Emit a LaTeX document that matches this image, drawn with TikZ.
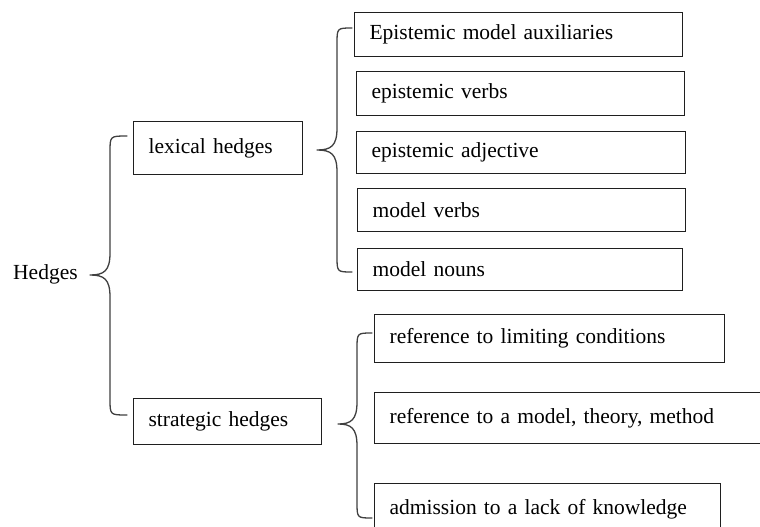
\documentclass[tikz,border=0pt]{standalone}
\usepackage{fontspec}
\setmainfont{Liberation Serif}
\newcommand{\drawbrace}[6]{%
  % #1 tip x, #2 tip y, #3 vertical x, #4 end x, #5 top y, #6 bottom y
  \draw[bracestyle] (#4,#5) .. controls (#3,#5) .. (#3,#5+16)
     -- (#3,#2-22) .. controls (#3,#2-4) and (#3-6,#2) .. (#1,#2)
     (#1,#2) .. controls (#3-6,#2) and (#3,#2+4) .. (#3,#2+22)
     -- (#3,#6-16) .. controls (#3,#6) .. (#4,#6);}
\tikzset{
  bx/.style={draw=black!88, line width=1.2pt, anchor=north west, inner xsep=15pt,
    inner ysep=0pt, align=left, font=\fontsize{21.5}{26}\selectfont},
  lbl/.style={anchor=base west, inner sep=0pt, font=\fontsize{21.5}{26}\selectfont},
  bracestyle/.style={draw=black!75, line width=1.3pt, line cap=round}
}
\begin{document}
\begin{tikzpicture}[x=1pt,y=-1pt]
\clip (0,0) rectangle (760,527);
\fill[white] (0,0) rectangle (760,527);
% root
\node[lbl] (hedges) at (13,279) {Hedges};
% second level
\node[bx, text width=139pt, minimum height=53pt] (lex) at (133,121) {lexical hedges};
\node[bx, text width=158pt, minimum height=46pt] (strat) at (133,398) {strategic hedges};
% lexical children
\node[bx, text width=298pt, minimum height=44pt] (e1) at (354,12) {Epistemic model auxiliaries};
\node[bx, text width=298pt, minimum height=44pt] (e2) at (356,71) {epistemic verbs};
\node[bx, text width=299pt, minimum height=42pt] (e3) at (356,131) {epistemic adjective};
\node[bx, text width=298pt, minimum height=43pt] (e4) at (357,188) {model verbs};
\node[bx, text width=295pt, minimum height=42pt] (e5) at (357,248) {model nouns};
% strategic children
\node[bx, text width=320pt, minimum height=48pt] (s1) at (374,314) {reference to limiting conditions};
\node[bx, text width=390pt, minimum height=51pt] (s2) at (374,392) {reference to a model, theory, method};
\node[bx, text width=316pt, minimum height=52pt] (s3) at (374,483) {admission to a lack of knowledge};
% braces
\drawbrace{90}{275}{110}{127}{136}{415}
\drawbrace{317}{150}{337}{352}{28}{272}
\drawbrace{338}{424}{357}{372}{333}{518}
\end{tikzpicture}
\end{document}
